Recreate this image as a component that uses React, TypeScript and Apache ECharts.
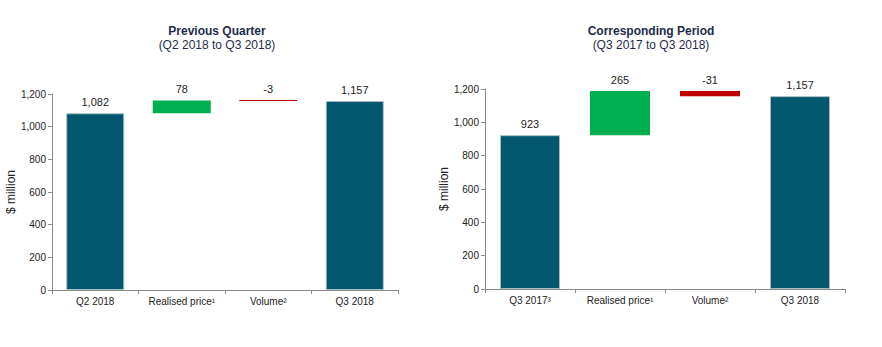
import React, { useEffect, useRef } from "react";
import * as echarts from "echarts";

const leftTitle = "Previous Quarter";
const leftSubtitle = "(Q2 2018 to Q3 2018)";
const leftCategories = ["Q2 2018", "Realised price¹", "Volume²", "Q3 2018"];
const leftStart = 1082;
const leftDeltas = [78, -3];
const leftEnd = 1157;

const rightTitle = "Corresponding Period";
const rightSubtitle = "(Q3 2017 to Q3 2018)";
const rightCategories = ["Q3 2017³", "Realised price¹", "Volume²", "Q3 2018"];
const rightStart = 923;
const rightDeltas = [265, -31];
const rightEnd = 1157;

const yTicks = [0, 200, 400, 600, 800, 1000, 1200];

const TEAL = "#00576e";
const GREEN = "#00b050";
const RED = "#c00000";
const FONT = "'Liberation Sans', Arial, sans-serif";

function waterfall(start: number, deltas: number[], end: number) {
  const base: number[] = [0];
  const height: number[] = [start];
  const colors: string[] = [TEAL];
  const labels: string[] = [start.toLocaleString("en-US")];
  let run = start;
  deltas.forEach((d) => {
    const next = run + d;
    base.push(Math.min(run, next));
    height.push(Math.abs(d));
    colors.push(d >= 0 ? GREEN : RED);
    labels.push(d.toLocaleString("en-US"));
    run = next;
  });
  base.push(0);
  height.push(end);
  colors.push(TEAL);
  labels.push(end.toLocaleString("en-US"));
  return { base, height, colors, labels };
}

function makeSeries(idx: number, w: ReturnType<typeof waterfall>, barWidth: number) {
  const stack = "s" + idx;
  return [
    {
      type: "bar",
      xAxisIndex: idx,
      yAxisIndex: idx,
      stack,
      silent: true,
      barWidth,
      itemStyle: { color: "transparent" },
      data: w.base,
    },
    {
      type: "bar",
      xAxisIndex: idx,
      yAxisIndex: idx,
      stack,
      barWidth,
      barMinHeight: 1,
      data: w.height.map((v, i) => ({
        value: v,
        itemStyle: {
          color: w.colors[i],
          borderColor: w.colors[i] === TEAL ? "#a9bcc4" : w.colors[i],
          borderWidth: w.colors[i] === TEAL ? 1 : 0,
        },
        label: {
          show: true,
          position: "top",
          distance: 6,
          formatter: w.labels[i],
          color: "#222",
          fontSize: 11,
          fontFamily: FONT,
        },
      })),
    },
  ];
}

export default function App() {
  const ref = useRef<HTMLDivElement>(null);
  useEffect(() => {
    if (!ref.current) return;
    const chart = echarts.init(ref.current, undefined, { renderer: "svg" });
    const lw = waterfall(leftStart, leftDeltas, leftEnd);
    const rw = waterfall(rightStart, rightDeltas, rightEnd);

    const xAxisCommon = {
      type: "category",
      axisLine: { lineStyle: { color: "#8a8a8a" } },
      axisTick: { show: true, length: 4, lineStyle: { color: "#8a8a8a" } },
      axisLabel: { color: "#222", fontSize: 10, fontFamily: FONT, margin: 6, interval: 0 },
    };
    const yAxisCommon = {
      type: "value",
      min: yTicks[0],
      max: yTicks[yTicks.length - 1],
      interval: yTicks[1] - yTicks[0],
      name: "$ million",
      nameLocation: "middle",
      nameTextStyle: { color: "#222", fontSize: 12, fontFamily: FONT },
      axisLine: { show: true, lineStyle: { color: "#8a8a8a" } },
      axisTick: { show: true, length: 4, lineStyle: { color: "#8a8a8a" } },
      splitLine: { show: false },
      axisLabel: {
        color: "#222",
        fontSize: 10,
        fontFamily: FONT,
        margin: 6,
        formatter: (v: number) => v.toLocaleString("en-US"),
      },
    };

    const titleStyle = (x: number, y: number, text: string, bold: boolean) => ({
      type: "text",
      x,
      y,
      style: {
        text,
        fill: "#1d2c4c",
        font: `${bold ? "bold " : ""}12px ${FONT}`,
        textAlign: "center",
        textVerticalAlign: "middle",
      },
    });

    chart.setOption({
      animation: false,
      backgroundColor: "#fff",
      graphic: [
        titleStyle(217, 31, leftTitle, true),
        titleStyle(217, 45, leftSubtitle, false),
        titleStyle(651, 31, rightTitle, true),
        titleStyle(651, 45, rightSubtitle, false),
      ],
      grid: [
        { left: 52, right: 484, top: 94, bottom: 57 },
        { left: 485, right: 37, top: 89, bottom: 58 },
      ],
      xAxis: [
        { ...xAxisCommon, gridIndex: 0, data: leftCategories },
        { ...xAxisCommon, gridIndex: 1, data: rightCategories },
      ],
      yAxis: [
        { ...yAxisCommon, gridIndex: 0, nameGap: 32 },
        { ...yAxisCommon, gridIndex: 1, nameGap: 34 },
      ],
      series: [...makeSeries(0, lw, 58), ...makeSeries(1, rw, 60)],
    });
    return () => chart.dispose();
  }, []);
  return (
    <div
      ref={ref}
      style={{ position: "fixed", left: 0, top: 0, width: 882, height: 347 }}
    />
  );
}
